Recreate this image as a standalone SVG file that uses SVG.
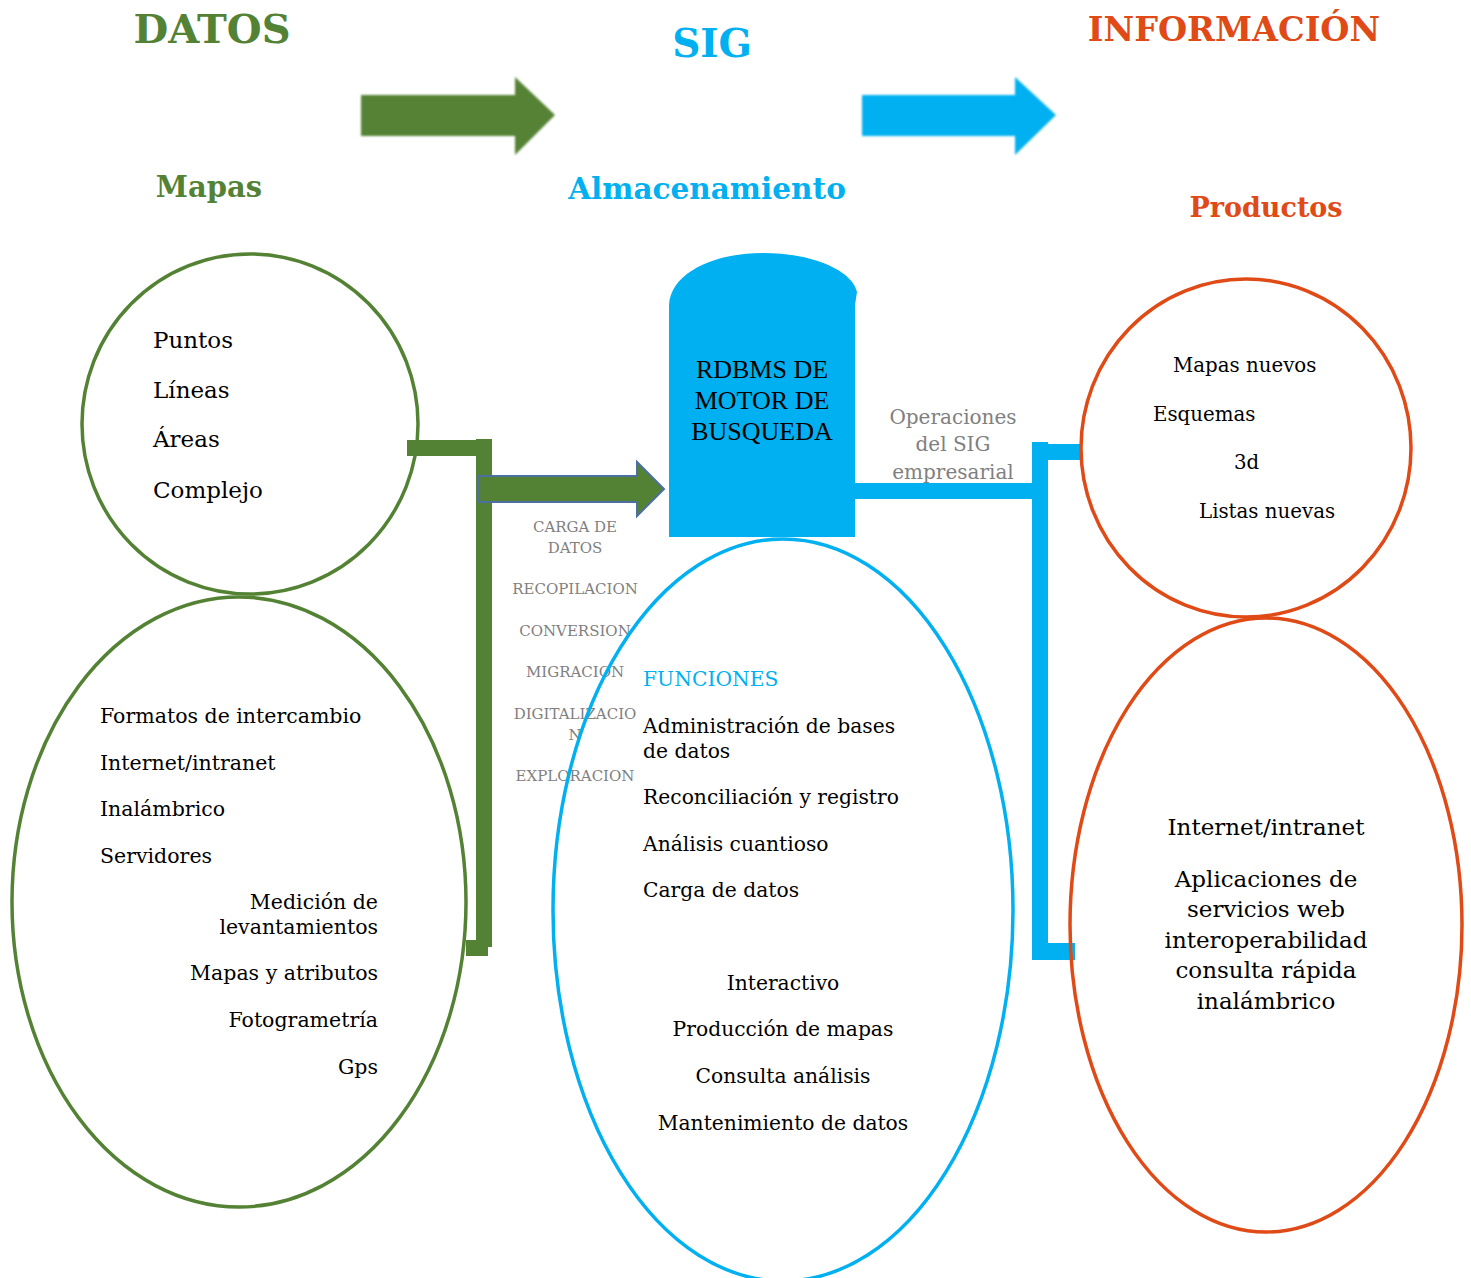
<svg xmlns="http://www.w3.org/2000/svg" width="1471" height="1278" viewBox="0 0 1471 1278">
<style>
.t{font-family:"DejaVu Serif","Liberation Serif",serif;fill:#000}
.h{font-family:"DejaVu Serif","Liberation Serif",serif;font-weight:bold}
.g{fill:#548235}.b{fill:#00B0F0}.o{fill:#E04A16}
.gr{font-family:"DejaVu Serif","Liberation Serif",serif;fill:#808080}
.c{text-anchor:middle}
.r{text-anchor:end}
.eg{fill:none;stroke:#548235;stroke-width:3.5}
.eb{fill:none;stroke:#00B0F0;stroke-width:3.5}
.eo{fill:none;stroke:#E04A16;stroke-width:3.5}
</style>
<defs>
<filter id="blur" x="-5%" y="-5%" width="110%" height="110%"><feGaussianBlur stdDeviation="1.2"/></filter>
</defs>
<rect width="1471" height="1278" fill="#fff"/>

<g id="titles">
<text class="h g c" x="212" y="43" font-size="40">DATOS</text>
<text class="h b c" x="712" y="57" font-size="39">SIG</text>
<text class="h o c" x="1234" y="41" font-size="33.5">INFORMACIÓN</text>
<text class="h g c" x="209" y="197" font-size="29">Mapas</text>
<text class="h b c" x="707" y="199" font-size="29.5">Almacenamiento</text>
<text class="h o c" x="1266" y="217" font-size="27">Productos</text>
</g>

<g id="arrow-datos-sig">
<polygon points="361,95 515,95 515,77 555,115 515,155 515,136 361,136" fill="#548235" filter="url(#blur)"/>
</g>
<g id="arrow-sig-info">
<polygon points="862,95 1015,95 1015,77 1056,115 1015,155 1015,136 862,136" fill="#00B0F0" filter="url(#blur)"/>
</g>

<g id="connectors">
<rect x="407" y="440" width="82" height="16" fill="#548235"/>
<rect x="476" y="439" width="16" height="508" fill="#548235"/>
<rect x="466" y="940" width="22" height="16" fill="#548235"/>
<polygon points="479,476 637,476 637,462 664,489 637,516 637,502 479,502" fill="#548235" stroke="#4A6FA0" stroke-width="2"/>
<rect x="855" y="483" width="185" height="16" fill="#00B0F0"/>
<rect x="1032" y="442" width="16" height="518" fill="#00B0F0"/>
<rect x="1048" y="444" width="32" height="16" fill="#00B0F0"/>
<rect x="1048" y="943" width="27" height="17" fill="#00B0F0"/>
</g>

<g id="mapas-circle">
<ellipse class="eg" cx="250" cy="424" rx="168" ry="170"/>
<text class="t" font-size="23" x="153" y="348">Puntos</text>
<text class="t" font-size="23" x="153" y="398">Líneas</text>
<text class="t" font-size="23" x="153" y="447">Áreas</text>
<text class="t" font-size="23" x="153" y="498">Complejo</text>
</g>

<g id="fuentes-ellipse">
<ellipse class="eg" cx="239" cy="902" rx="227" ry="305"/>
<text class="t" font-size="20.5" x="100" y="723">Formatos de intercambio</text>
<text class="t" font-size="20.5" x="100" y="770">Internet/intranet</text>
<text class="t" font-size="20.5" x="100" y="816">Inalámbrico</text>
<text class="t" font-size="20.5" x="100" y="863">Servidores</text>
<text class="t r" font-size="20.5" x="378" y="909">Medición de</text>
<text class="t r" font-size="20.5" x="378" y="934">levantamientos</text>
<text class="t r" font-size="20.5" x="378" y="980">Mapas y atributos</text>
<text class="t r" font-size="20.5" x="378" y="1027">Fotogrametría</text>
<text class="t r" font-size="20.5" x="378" y="1074">Gps</text>
</g>

<g id="carga-labels">
<text class="gr c" font-size="15" x="575" y="532">CARGA DE</text>
<text class="gr c" font-size="15" x="575" y="553">DATOS</text>
<text class="gr c" font-size="15" x="575" y="594">RECOPILACION</text>
<text class="gr c" font-size="15" x="575" y="636">CONVERSION</text>
<text class="gr c" font-size="15" x="575" y="677">MIGRACION</text>
<text class="gr c" font-size="15" x="575" y="719">DIGITALIZACIO</text>
<text class="gr c" font-size="15" x="575" y="740">N</text>
<text class="gr c" font-size="15" x="575" y="781">EXPLORACION</text>
</g>

<g id="rdbms">
<path d="M669,537 L669,305 C671,272 715,253 763,253 C812,253 852,270 857,292 L855,305 L855,537 Z" fill="#00B0F0"/>
<text font-family="Liberation Serif,serif" font-size="26" class="c" x="762" y="378">RDBMS DE</text>
<text font-family="Liberation Serif,serif" font-size="26" class="c" x="762" y="409">MOTOR DE</text>
<text font-family="Liberation Serif,serif" font-size="26" class="c" x="762" y="440">BUSQUEDA</text>
</g>

<g id="funciones-ellipse">
<ellipse class="eb" cx="783" cy="910" rx="230" ry="371"/>
<text class="t" font-size="20.3" x="643" y="686" style="fill:#00B0F0">FUNCIONES</text>
<text class="t" font-size="20.3" x="643" y="733">Administración de bases</text>
<text class="t" font-size="20.3" x="643" y="758">de datos</text>
<text class="t" font-size="20.3" x="643" y="804">Reconciliación y registro</text>
<text class="t" font-size="20.3" x="643" y="851">Análisis cuantioso</text>
<text class="t" font-size="20.3" x="643" y="897">Carga de datos</text>
<text class="t c" font-size="20.3" x="783" y="990">Interactivo</text>
<text class="t c" font-size="20.3" x="783" y="1036">Producción de mapas</text>
<text class="t c" font-size="20.3" x="783" y="1083">Consulta análisis</text>
<text class="t c" font-size="20.3" x="783" y="1130">Mantenimiento de datos</text>
</g>

<g id="operaciones-label">
<text class="gr c" font-size="20" x="953" y="424">Operaciones</text>
<text class="gr c" font-size="20" x="953" y="451">del SIG</text>
<text class="gr c" font-size="20" x="953" y="479">empresarial</text>
</g>

<g id="productos-circle">
<ellipse class="eo" cx="1246" cy="448" rx="165" ry="169"/>
<text class="t" font-size="19.8" x="1173" y="372">Mapas nuevos</text>
<text class="t" font-size="19.8" x="1153" y="421">Esquemas</text>
<text class="t" font-size="19.8" x="1234" y="469">3d</text>
<text class="t" font-size="19.8" x="1199" y="518">Listas nuevas</text>
</g>

<g id="servicios-ellipse">
<ellipse class="eo" cx="1266" cy="925" rx="196" ry="307"/>
<text class="t c" font-size="23" x="1266" y="835">Internet/intranet</text>
<text class="t c" font-size="23" x="1266" y="887">Aplicaciones de</text>
<text class="t c" font-size="23" x="1266" y="917">servicios web</text>
<text class="t c" font-size="23" x="1266" y="948">interoperabilidad</text>
<text class="t c" font-size="23" x="1266" y="978">consulta rápida</text>
<text class="t c" font-size="23" x="1266" y="1009">inalámbrico</text>
</g>
</svg>
